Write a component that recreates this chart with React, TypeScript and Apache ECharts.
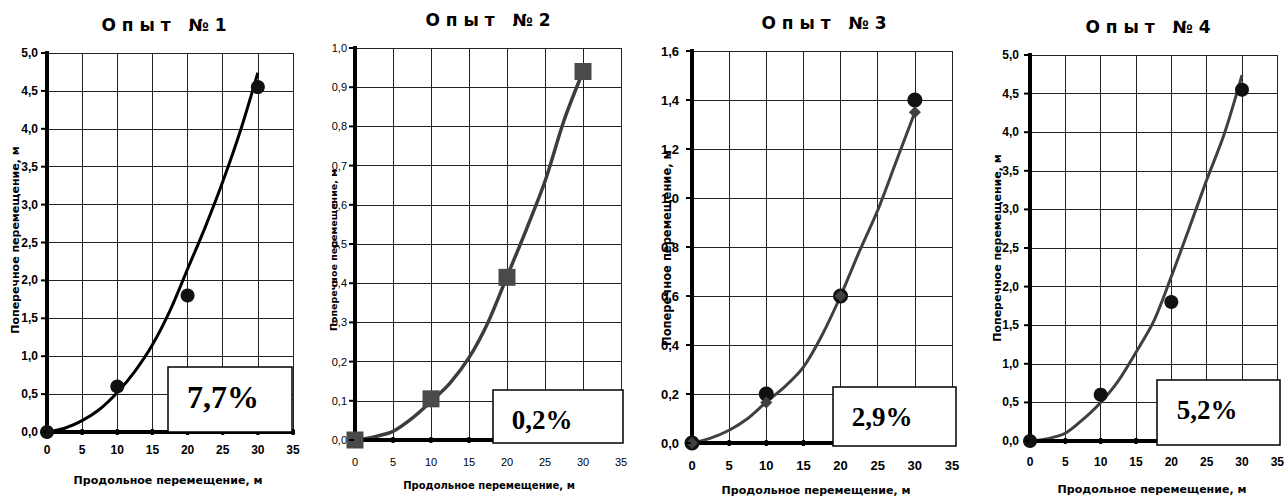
import React, { useEffect, useRef } from "react";
import * as echarts from "echarts";

// Measured displacement points and fitted curves for four runs
const run1Points = [[0, 0], [10, 0.6], [20, 1.8], [30, 4.55]];
const run1Fit = [[0, 0], [2.5, 0.05], [5, 0.15], [7.5, 0.3], [10, 0.52], [12.5, 0.8], [15, 1.15], [17.5, 1.6], [20, 2.15], [22.5, 2.7], [25, 3.3], [27.5, 3.97], [30, 4.74]];

const run2Points = [[0, 0], [10, 0.105], [20, 0.415], [30, 0.94]];
const run2Fit = [[0, 0], [2.5, 0.008], [5, 0.022], [7.5, 0.055], [10, 0.098], [12.5, 0.145], [15, 0.21], [17.5, 0.3], [20, 0.417], [22.5, 0.535], [25, 0.66], [27.5, 0.815], [30, 0.94]];

const run3Points = [[0, 0], [10, 0.2], [20, 0.6], [30, 1.4]];
const run3Model = [[0, 0], [10, 0.165], [20, 0.6], [30, 1.35]];
const run3Fit = [[0, 0], [2.5, 0.02], [5, 0.052], [7.5, 0.1], [10, 0.167], [12.5, 0.23], [15, 0.31], [17.5, 0.44], [20, 0.6], [22.5, 0.78], [25, 0.95], [27.5, 1.15], [30, 1.35]];

const run4Points = [[0, 0], [10, 0.6], [20, 1.8], [30, 4.55]];
const run4Fit = [[0, 0], [2.5, 0.03], [5, 0.1], [7.5, 0.28], [10, 0.5], [12.5, 0.78], [15, 1.15], [17.5, 1.55], [20, 2.13], [22.5, 2.75], [25, 3.38], [27.5, 3.98], [30, 4.74]];

const titles = ["О п ы т   № 1", "О п ы т   № 2", "О п ы т   № 3", "О п ы т   № 4"];
const errorLabels = ["7,7%", "0,2%", "2,9%", "5,2%"];
const xAxisTitle = "Продольное перемещение, м";
const yAxisTitle = "Поперечное перемещение, м";
const xMax = 35;
const xInterval = 5;
const yMaxes = [5, 1, 1.6, 5];
const yIntervals = [0.5, 0.1, 0.2, 0.5];

const ARIAL = '"Liberation Sans", Arial, sans-serif';
const DEJAVU = '"DejaVu Sans", sans-serif';
const SERIF = '"Liberation Serif", "Times New Roman", serif';

const grids = [
  { left: 47, top: 53, width: 246, height: 379 },
  { left: 355, top: 48, width: 266, height: 392 },
  { left: 692, top: 51, width: 260, height: 392 },
  { left: 1030, top: 55, width: 248, height: 386 },
];

const tickStyle = [
  { weight: "bold", size: 12, ymargin: 9, xmargin: 12 },
  { weight: "normal", size: 11, ymargin: 8, xmargin: 16 },
  { weight: "bold", size: 13, ymargin: 13, xmargin: 16 },
  { weight: "bold", size: 12, ymargin: 11, xmargin: 15 },
];

const titlePos = [[164, 25], [488, 20], [824, 23], [1148, 27]];
const xTitlePos = [[168, 480], [489, 485], [816, 490], [1152, 489]];
const yTitlePos = [[15, 240], [333, 250], [667, 248], [997, 248]];
const xTitleSize = [11, 10, 11, 11];
const yTitleSize = [11, 9.5, 11.5, 11];

const boxes = [
  { x: 168, y: 367, w: 124, h: 65, tx: 223, ty: 397, size: 32 },
  { x: 493, y: 390, w: 130, h: 53, tx: 542, ty: 420, size: 27 },
  { x: 833, y: 387, w: 123, h: 59, tx: 882, ty: 417, size: 27 },
  { x: 1157, y: 380, w: 123, h: 65, tx: 1207, ty: 410, size: 27 },
];

const fmt = (v: number) => v.toFixed(1).replace(".", ",");

export default function App() {
  const ref = useRef<HTMLDivElement>(null);

  useEffect(() => {
    if (!ref.current) return;
    const chart = echarts.init(ref.current, undefined, { renderer: "svg" });

    const xAxis = grids.map((_, i) => ({
      type: "value",
      gridIndex: i,
      position: "bottom",
      min: 0,
      max: xMax,
      interval: xInterval,
      axisLine: { show: false },
      axisTick: { show: false },
      axisLabel: {
        color: "#000",
        fontFamily: ARIAL,
        fontWeight: tickStyle[i].weight,
        fontSize: tickStyle[i].size,
        margin: tickStyle[i].xmargin,
      },
      splitLine: { show: true, lineStyle: { color: "#222", width: 1 } },
    }));

    const yAxis = grids.map((_, i) => ({
      type: "value",
      gridIndex: i,
      position: "left",
      min: 0,
      max: yMaxes[i],
      interval: yIntervals[i],
      axisLine: { show: false },
      axisTick: { show: false },
      axisLabel: {
        color: "#000",
        fontFamily: ARIAL,
        fontWeight: tickStyle[i].weight,
        fontSize: tickStyle[i].size,
        margin: tickStyle[i].ymargin,
        formatter: (v: number) => fmt(v),
      },
      splitLine: { show: true, lineStyle: { color: "#222", width: 1 } },
    }));

    const fitLine = (idx: number, data: number[][], color: string, width: number) => ({
      type: "line",
      xAxisIndex: idx,
      yAxisIndex: idx,
      data,
      smooth: 0.3,
      showSymbol: false,
      symbol: "none",
      lineStyle: { color, width },
      z: 3,
    });

    // Heavy frame lines along both zero axes of a panel
    const frameLine = (idx: number, data: number[][]) => ({
      type: "line",
      xAxisIndex: idx,
      yAxisIndex: idx,
      data,
      silent: true,
      clip: false,
      showSymbol: false,
      symbol: "none",
      lineStyle: { color: "#000", width: 4, cap: "square" },
      z: 4,
    });

    const marks = (idx: number, data: number[][], symbol: string, size: number, color: string, z = 5) => ({
      type: "scatter",
      xAxisIndex: idx,
      yAxisIndex: idx,
      data,
      symbol,
      symbolSize: size,
      itemStyle: { color, opacity: 1 },
      z,
    });

    const frames = grids.flatMap((_, i) => [
      frameLine(i, [[0, 0], [0, yMaxes[i]]]),
      frameLine(i, [[0, 0], [xMax, 0]]),
    ]);

    const series = [
      ...frames,
      fitLine(0, run1Fit, "#000", 3),
      marks(0, run1Points, "circle", 14, "#111"),
      fitLine(1, run2Fit, "#3d3d3d", 3.5),
      marks(1, run2Points, "rect", 17, "#4a4a4a"),
      fitLine(2, run3Fit, "#404040", 3),
      marks(2, run3Points, "circle", 15, "#111"),
      marks(2, run3Model, "diamond", 12, "#404040", 6),
      fitLine(3, run4Fit, "#404040", 3),
      marks(3, run4Points, "circle", 14, "#111"),
    ];

    chart.setOption({
      animation: false,
      backgroundColor: "#fff",
      grid: grids.map((g) => ({ ...g, containLabel: false, show: false })),
      xAxis,
      yAxis,
      series,
    });

    const centered = { align: "center", verticalAlign: "middle", textAlign: "center", textVerticalAlign: "middle" };
    const graphic: any[] = [];
    const bar = (x: number, y: number, w: number, h: number, z: number) => ({
      type: "rect",
      z,
      shape: { x, y, width: w, height: h },
      style: { fill: "#000" },
    });

    // Tick nubs, placed through each panel's own scales
    grids.forEach((_, i) => {
      const px = (x: number, y: number): [number, number] => {
        const r = chart.convertToPixel({ xAxisIndex: i, yAxisIndex: i }, [x, y]) as number[];
        return [Number(r[0]), Number(r[1])];
      };
      const nYTicks = Math.round(yMaxes[i] / yIntervals[i]);
      for (let k = 0; k <= nYTicks; k++) {
        const p = px(0, k * yIntervals[i]);
        graphic.push(bar(p[0] - 6, p[1] - 1, 5, 2, 8));
      }
      for (let k = 1; k <= xMax / xInterval; k++) {
        const p = px(k * xInterval, 0);
        graphic.push(bar(p[0] - 1.5, p[1] - 3, 3, 6, 4));
      }
    });

    titles.forEach((t, i) => {
      graphic.push({
        type: "text",
        x: titlePos[i][0],
        y: titlePos[i][1],
        style: { text: t, font: `bold 17px ${DEJAVU}`, fill: "#000", ...centered },
      });
      graphic.push({
        type: "text",
        x: xTitlePos[i][0],
        y: xTitlePos[i][1],
        style: { text: xAxisTitle, font: `bold ${xTitleSize[i]}px ${DEJAVU}`, fill: "#000", ...centered },
      });
      graphic.push({
        type: "text",
        x: yTitlePos[i][0],
        y: yTitlePos[i][1],
        rotation: Math.PI / 2,
        style: { text: yAxisTitle, font: `bold ${yTitleSize[i]}px ${DEJAVU}`, fill: "#000", ...centered },
        z: 10,
      });
      const b = boxes[i];
      graphic.push({
        type: "rect",
        shape: { x: b.x, y: b.y, width: b.w, height: b.h },
        style: { fill: "#fff", stroke: "#000", lineWidth: 1.5 },
        z: 20,
      });
      graphic.push({
        type: "text",
        x: b.tx,
        y: b.ty,
        style: { text: errorLabels[i], font: `bold ${b.size}px ${SERIF}`, fill: "#000", ...centered },
        z: 21,
      });
    });

    chart.setOption({ graphic });

    return () => chart.dispose();
  }, []);

  return (
    <div
      ref={ref}
      style={{ position: "fixed", left: 0, top: 0, width: 1287, height: 497, background: "#fff" }}
    />
  );
}
